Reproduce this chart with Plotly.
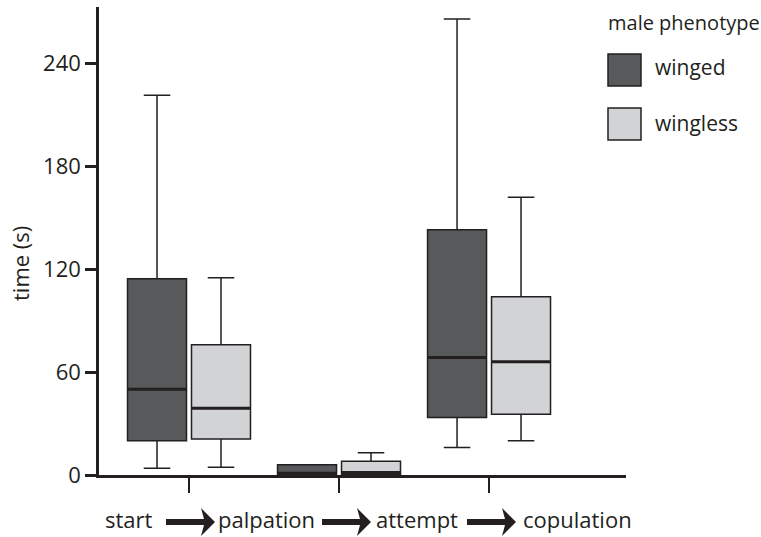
import plotly.graph_objects as go

# ---------------- data ----------------
categories = ["start → palpation", "palpation → attempt", "attempt → copulation"]

winged_lower = [4.0, 0.0, 16.0]
winged_q1 = [20.0, 0.0, 33.5]
winged_median = [50.0, 1.0, 68.5]
winged_q3 = [114.5, 6.0, 143.0]
winged_upper = [221.5, 6.0, 266.0]

wingless_lower = [4.5, 0.0, 20.0]
wingless_q1 = [21.0, 0.5, 35.5]
wingless_median = [39.0, 1.5, 66.0]
wingless_q3 = [76.0, 8.0, 104.0]
wingless_upper = [115.0, 13.0, 162.0]

y_ticks = [0, 60, 120, 180, 240]
stage_labels = ["start", "palpation", "attempt", "copulation"]
legend_title = "male phenotype"
series_names = ["winged", "wingless"]

# ---------------- style ----------------
INK = "#231f20"
DARK = "#58595b"
LIGHT = "#d1d3d4"
FONT = "Open Sans"

fig = go.Figure()

series = [
    ("winged", DARK, winged_lower, winged_q1, winged_median, winged_q3, winged_upper),
    ("wingless", LIGHT, wingless_lower, wingless_q1, wingless_median, wingless_q3, wingless_upper),
]

for name, color, lo, q1, med, q3, up in series:
    fig.add_trace(go.Box(
        name=name, x=categories, q1=q1, median=med, q3=q3,
        lowerfence=lo, upperfence=up,
        fillcolor=color, line=dict(color=INK, width=1.5),
        whiskerwidth=0.45, offsetgroup=name, boxpoints=False,
        hoverinfo="skip", showlegend=False,
    ))

# thicker median lines drawn as flat boxes on top
for name, color, lo, q1, med, q3, up in series:
    fig.add_trace(go.Box(
        name=name + " median", x=categories, q1=med, median=med, q3=med,
        lowerfence=med, upperfence=med,
        fillcolor="rgba(0,0,0,0)", line=dict(color=INK, width=3),
        whiskerwidth=0.0, offsetgroup=name, boxpoints=False,
        hoverinfo="skip", showlegend=False,
    ))

# plot area in pixels
L, R, T, B = 99, 135, 7, 62
W, H = 761, 537
PW, PH = W - L - R, H - T - B


def px(xp):
    return (xp - L) / PW


def py(yp):
    return (H - B - yp) / PH


annotations = []
shapes = []

# stage labels below the axis
label_x = [129, 266, 417, 577]
for lab, xp in zip(stage_labels, label_x):
    annotations.append(dict(
        text=lab, x=px(xp), y=py(519), xref="paper", yref="paper",
        xanchor="center", yanchor="middle", showarrow=False,
        font=dict(family=FONT, size=22, color=INK),
    ))

# arrows between stage labels (decorative)
arrow_tails = [166, 322, 467]
arrow_path = "M0,3 L38,3 L35,14 L49,0 L35,-14 L38,-3 L0,-3 Z"
for xt in arrow_tails:
    shapes.append(dict(
        type="path", xref="paper", yref="paper",
        xsizemode="pixel", ysizemode="pixel",
        xanchor=px(xt), yanchor=py(522),
        path=arrow_path, fillcolor=INK, line=dict(width=0),
        layer="above",
    ))

# y axis title
annotations.append(dict(
    text="time (s)", x=px(20), y=py(264), xref="paper", yref="paper",
    xanchor="center", yanchor="middle", textangle=-90, showarrow=False,
    font=dict(family=FONT, size=22, color=INK),
))

# legend (manual)
annotations.append(dict(
    text=legend_title, x=px(606), y=py(22), xref="paper", yref="paper",
    xanchor="left", yanchor="middle", showarrow=False,
    font=dict(family=FONT, size=20, color=INK),
))
legend_rows = [(series_names[0], DARK, 54, 86, 67), (series_names[1], LIGHT, 108, 140, 123)]
for name, color, y0, y1, ty in legend_rows:
    shapes.append(dict(
        type="rect", xref="paper", yref="paper",
        x0=px(608), x1=px(641), y0=py(y1), y1=py(y0),
        fillcolor=color, line=dict(color=INK, width=1.5),
    ))
    annotations.append(dict(
        text=name, x=px(653), y=py(ty), xref="paper", yref="paper",
        xanchor="left", yanchor="middle", showarrow=False,
        font=dict(family=FONT, size=21, color=INK),
    ))

fig.update_layout(
    width=W, height=H,
    margin=dict(l=L, r=R, t=T, b=B),
    plot_bgcolor="white", paper_bgcolor="white",
    showlegend=False,
    boxmode="group", boxgap=0.147, boxgroupgap=0.078,
    font=dict(family=FONT, size=22, color=INK),
    annotations=annotations, shapes=shapes,
)

fig.update_xaxes(
    type="category", categoryorder="array", categoryarray=categories,
    range=[-0.6, 2.913], showline=True, linecolor=INK, linewidth=2.5,
    ticks="outside", ticklen=15, tickwidth=2, tickcolor=INK,
    showticklabels=False, showgrid=False, zeroline=False, fixedrange=True,
)
fig.update_yaxes(
    range=[0, 273], tickvals=y_ticks, ticktext=[str(v) for v in y_ticks],
    showline=True, linecolor=INK, linewidth=2.5,
    ticks="outside", ticklen=11, tickwidth=2.5, tickcolor=INK,
    tickfont=dict(family=FONT, size=22, color=INK),
    showgrid=False, zeroline=False, fixedrange=True,
)

fig.write_html(
    "out.html",
    config={"displayModeBar": False},
    post_script="document.body.style.margin='0';document.body.style.overflow='hidden';",
)
